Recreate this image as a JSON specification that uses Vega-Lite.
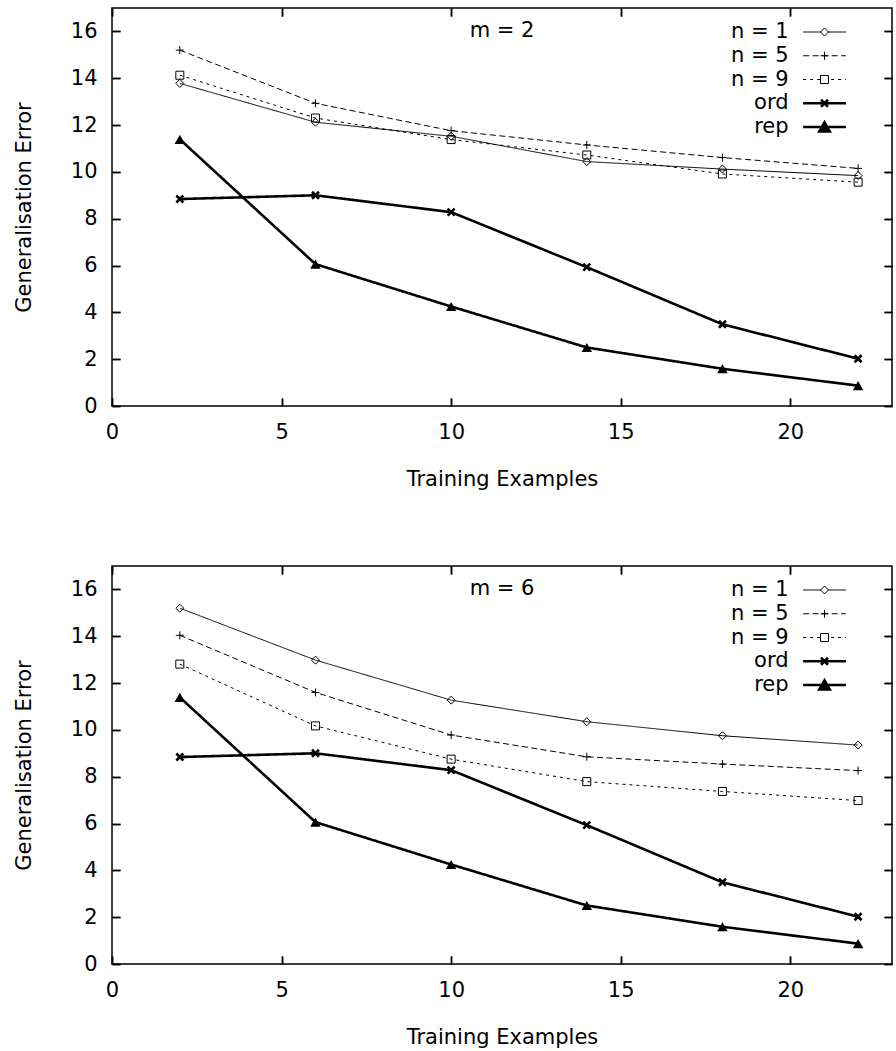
{
  "$schema": "https://vega.github.io/schema/vega-lite/v6.json",
  "padding": {"left": 12, "top": 6, "right": 0, "bottom": 0},
  "background": "white",
  "config": {
    "font": "DejaVu Sans",
    "view": {"stroke": "black", "strokeWidth": 1.5},
    "axis": {"domain": false, "grid": false, "tickColor": "black", "tickWidth": 1.5, "labelPadding": 15, "labelFontSize": 21, "labelFont": "DejaVu Sans", "labelColor": "black", "titleFontSize": 21, "titleFont": "DejaVu Sans", "titleFontWeight": "normal", "titleColor": "black", "labelFlush": false, "labelOverlap": false},
    "axisX": {"titlePadding": 26},
    "axisY": {"titlePadding": 36},
    "concat": {"spacing": 74}
  },
  "datasets": {
    "m2": [
      {"x": 2, "y": 13.78, "series": "n = 1"}, {"x": 6, "y": 12.12, "series": "n = 1"}, {"x": 10, "y": 11.52, "series": "n = 1"}, {"x": 14, "y": 10.44, "series": "n = 1"}, {"x": 18, "y": 10.12, "series": "n = 1"}, {"x": 22, "y": 9.84, "series": "n = 1"},
      {"x": 2, "y": 15.2, "series": "n = 5"}, {"x": 6, "y": 12.93, "series": "n = 5"}, {"x": 10, "y": 11.76, "series": "n = 5"}, {"x": 14, "y": 11.15, "series": "n = 5"}, {"x": 18, "y": 10.61, "series": "n = 5"}, {"x": 22, "y": 10.15, "series": "n = 5"},
      {"x": 2, "y": 14.13, "series": "n = 9"}, {"x": 6, "y": 12.3, "series": "n = 9"}, {"x": 10, "y": 11.38, "series": "n = 9"}, {"x": 14, "y": 10.72, "series": "n = 9"}, {"x": 18, "y": 9.91, "series": "n = 9"}, {"x": 22, "y": 9.56, "series": "n = 9"},
      {"x": 2, "y": 8.84, "series": "ord"}, {"x": 6, "y": 9.0, "series": "ord"}, {"x": 10, "y": 8.28, "series": "ord"}, {"x": 14, "y": 5.93, "series": "ord"}, {"x": 18, "y": 3.49, "series": "ord"}, {"x": 22, "y": 2.02, "series": "ord"},
      {"x": 2, "y": 11.39, "series": "rep"}, {"x": 6, "y": 6.06, "series": "rep"}, {"x": 10, "y": 4.25, "series": "rep"}, {"x": 14, "y": 2.5, "series": "rep"}, {"x": 18, "y": 1.59, "series": "rep"}, {"x": 22, "y": 0.87, "series": "rep"}
    ],
    "m6": [
      {"x": 2, "y": 15.2, "series": "n = 1"}, {"x": 6, "y": 12.98, "series": "n = 1"}, {"x": 10, "y": 11.27, "series": "n = 1"}, {"x": 14, "y": 10.35, "series": "n = 1"}, {"x": 18, "y": 9.75, "series": "n = 1"}, {"x": 22, "y": 9.35, "series": "n = 1"},
      {"x": 2, "y": 14.04, "series": "n = 5"}, {"x": 6, "y": 11.6, "series": "n = 5"}, {"x": 10, "y": 9.78, "series": "n = 5"}, {"x": 14, "y": 8.85, "series": "n = 5"}, {"x": 18, "y": 8.54, "series": "n = 5"}, {"x": 22, "y": 8.26, "series": "n = 5"},
      {"x": 2, "y": 12.81, "series": "n = 9"}, {"x": 6, "y": 10.17, "series": "n = 9"}, {"x": 10, "y": 8.75, "series": "n = 9"}, {"x": 14, "y": 7.79, "series": "n = 9"}, {"x": 18, "y": 7.37, "series": "n = 9"}, {"x": 22, "y": 6.98, "series": "n = 9"},
      {"x": 2, "y": 8.84, "series": "ord"}, {"x": 6, "y": 9.0, "series": "ord"}, {"x": 10, "y": 8.28, "series": "ord"}, {"x": 14, "y": 5.93, "series": "ord"}, {"x": 18, "y": 3.49, "series": "ord"}, {"x": 22, "y": 2.02, "series": "ord"},
      {"x": 2, "y": 11.39, "series": "rep"}, {"x": 6, "y": 6.06, "series": "rep"}, {"x": 10, "y": 4.25, "series": "rep"}, {"x": 14, "y": 2.5, "series": "rep"}, {"x": 18, "y": 1.59, "series": "rep"}, {"x": 22, "y": 0.87, "series": "rep"}
    ]
  },
  "vconcat": [
    {
      "width": 780, "height": 398,
      "title": {"text": "m = 2", "fontSize": 21, "font": "DejaVu Sans", "fontWeight": "normal", "color": "black", "anchor": "middle", "frame": "group", "offset": -50.5, "baseline": "alphabetic"},
      "data": {"name": "m2"},
      "layer": [
        {
          "layer": [
            {
              "mark": {"type": "line", "color": "black", "clip": false},
              "encoding": {
                "x": {"field": "x", "type": "quantitative", "scale": {"domain": [0, 23], "nice": false, "zero": false}, "axis": {"orient": "bottom", "ticks": false, "grid": true, "gridColor": "black", "gridOpacity": 1, "gridWidth": 1.5, "gridDash": [8, 382, 8], "values": [0, 5, 10, 15, 20], "title": "Training Examples"}},
                "y": {"field": "y", "type": "quantitative", "scale": {"domain": [0, 17], "nice": false}, "axis": {"orient": "left", "ticks": false, "grid": true, "gridColor": "black", "gridOpacity": 1, "gridWidth": 1.5, "gridDash": [8, 764, 8], "values": [0, 2, 4, 6, 8, 10, 12, 14, 16], "title": "Generalisation Error"}},
                "strokeDash": {"field": "series", "type": "nominal", "scale": {"domain": ["n = 1", "n = 5", "n = 9", "ord", "rep"], "range": [[1, 0], [6, 3.5], [3, 4], [1, 0], [1, 0]]}, "legend": null},
                "strokeWidth": {"field": "series", "type": "nominal", "scale": {"type": "ordinal", "domain": ["n = 1", "n = 5", "n = 9", "ord", "rep"], "range": [1, 1, 1, 2.6, 2.6]}, "legend": null}
              }
            },
            {
              "transform": [{"filter": "datum.series != 'rep'"}],
              "mark": {"type": "point", "color": "black", "filled": false, "opacity": 1},
              "encoding": {
                "x": {"field": "x", "type": "quantitative", "axis": {"orient": "top", "offset": -398, "labels": false, "ticks": true, "tickSize": 8, "tickColor": "black", "tickWidth": 1.5, "domain": false, "grid": false, "values": [0, 5, 10, 15, 20], "title": null}},
                "y": {"field": "y", "type": "quantitative", "axis": {"orient": "right", "offset": -780, "labels": false, "ticks": true, "tickSize": 8, "tickColor": "black", "tickWidth": 1.5, "domain": false, "grid": false, "values": [0, 2, 4, 6, 8, 10, 12, 14, 16], "title": null}},
                "shape": {"field": "series", "type": "nominal", "scale": {"domain": ["n = 1", "n = 5", "n = 9", "ord", "rep"], "range": ["diamond", "M-1,0H1M0,-1V1", "square", "M-1,-1L1,1M-1,1L1,-1", "triangle-up"]}, "legend": null},
                "size": {"field": "series", "type": "nominal", "scale": {"type": "ordinal", "domain": ["n = 1", "n = 5", "n = 9", "ord", "rep"], "range": [64, 64, 64, 49, 110]}, "legend": null},
                "strokeWidth": {"field": "series", "type": "nominal", "scale": {"type": "ordinal", "domain": ["n = 1", "n = 5", "n = 9", "ord", "rep"], "range": [1, 1, 1, 2.6, 2.6]}, "legend": null}
              }
            },
            {
              "transform": [{"filter": "datum.series == 'rep'"}],
              "mark": {"type": "point", "color": "black", "filled": true, "opacity": 1},
              "encoding": {
                "x": {"field": "x", "type": "quantitative", "axis": {"orient": "bottom", "offset": -398, "labels": false, "ticks": true, "tickSize": 8, "tickColor": "black", "tickWidth": 1.5, "domain": false, "grid": false, "values": [0, 5, 10, 15, 20], "title": null}},
                "y": {"field": "y", "type": "quantitative", "axis": {"orient": "left", "offset": -780, "labels": false, "ticks": true, "tickSize": 8, "tickColor": "black", "tickWidth": 1.5, "domain": false, "grid": false, "values": [0, 2, 4, 6, 8, 10, 12, 14, 16], "title": null}},
                "shape": {"field": "series", "type": "nominal", "scale": {"domain": ["n = 1", "n = 5", "n = 9", "ord", "rep"], "range": ["diamond", "M-1,0H1M0,-1V1", "square", "M-1,-1L1,1M-1,1L1,-1", "triangle-up"]}, "legend": null},
                "size": {"field": "series", "type": "nominal", "scale": {"type": "ordinal", "domain": ["n = 1", "n = 5", "n = 9", "ord", "rep"], "range": [64, 64, 64, 49, 110]}, "legend": null}
              }
            }
          ],
          "resolve": {"axis": {"x": "independent", "y": "independent"}}
        },
        {
          "transform": [{"filter": "datum.x == 2"}],
          "layer": [
            {
              "mark": {"type": "text", "align": "right", "baseline": "middle", "fontSize": 21, "font": "DejaVu Sans", "color": "black"},
              "encoding": {
                "x": {"datum": 19.95, "type": "quantitative", "scale": {"domain": [0, 23], "nice": false, "zero": false}, "axis": null},
                "y": {"field": "series", "type": "nominal", "scale": {"type": "point", "domain": ["n = 1", "n = 5", "n = 9", "ord", "rep"], "range": [24, 119], "padding": 0}, "axis": null},
                "text": {"field": "series"}
              }
            },
            {
              "mark": {"type": "rule", "color": "black"},
              "encoding": {
                "x": {"datum": 20.38, "type": "quantitative", "axis": null},
                "x2": {"datum": 21.64},
                "y": {"field": "series", "type": "nominal", "axis": null},
                "strokeDash": {"field": "series", "type": "nominal", "scale": {"domain": ["n = 1", "n = 5", "n = 9", "ord", "rep"], "range": [[1, 0], [6, 3.5], [3, 4], [1, 0], [1, 0]]}, "legend": null},
                "strokeWidth": {"field": "series", "type": "nominal", "scale": {"type": "ordinal", "domain": ["n = 1", "n = 5", "n = 9", "ord", "rep"], "range": [1, 1, 1, 2.6, 2.6]}, "legend": null}
              }
            },
            {
              "mark": {"type": "point", "color": "black", "filled": false, "opacity": 1},
              "encoding": {
                "x": {"datum": 21.01, "type": "quantitative", "axis": null},
                "y": {"field": "series", "type": "nominal", "axis": null},
                "shape": {"field": "series", "type": "nominal", "scale": {"domain": ["n = 1", "n = 5", "n = 9", "ord", "rep"], "range": ["diamond", "M-1,0H1M0,-1V1", "square", "M-1,-1L1,1M-1,1L1,-1", "triangle-up"]}, "legend": null},
                "size": {"field": "series", "type": "nominal", "scale": {"type": "ordinal", "domain": ["n = 1", "n = 5", "n = 9", "ord", "rep"], "range": [64, 64, 64, 49, 110]}, "legend": null},
                "strokeWidth": {"field": "series", "type": "nominal", "scale": {"type": "ordinal", "domain": ["n = 1", "n = 5", "n = 9", "ord", "rep"], "range": [1, 1, 1, 2.6, 2.6]}, "legend": null},
                "fill": {"field": "series", "type": "nominal", "scale": {"domain": ["n = 1", "n = 5", "n = 9", "ord", "rep"], "range": ["white", "white", "white", "transparent", "black"]}, "legend": null}
              }
            }
          ]
        }
      ],
      "resolve": {"scale": {"y": "independent"}, "axis": {"x": "independent", "y": "independent"}}
    },
    {
      "width": 780, "height": 398,
      "title": {"text": "m = 6", "fontSize": 21, "font": "DejaVu Sans", "fontWeight": "normal", "color": "black", "anchor": "middle", "frame": "group", "offset": -50.5, "baseline": "alphabetic"},
      "data": {"name": "m6"},
      "layer": [
        {
          "layer": [
            {
              "mark": {"type": "line", "color": "black", "clip": false},
              "encoding": {
                "x": {"field": "x", "type": "quantitative", "scale": {"domain": [0, 23], "nice": false, "zero": false}, "axis": {"orient": "bottom", "ticks": false, "grid": true, "gridColor": "black", "gridOpacity": 1, "gridWidth": 1.5, "gridDash": [8, 382, 8], "values": [0, 5, 10, 15, 20], "title": "Training Examples"}},
                "y": {"field": "y", "type": "quantitative", "scale": {"domain": [0, 17], "nice": false}, "axis": {"orient": "left", "ticks": false, "grid": true, "gridColor": "black", "gridOpacity": 1, "gridWidth": 1.5, "gridDash": [8, 764, 8], "values": [0, 2, 4, 6, 8, 10, 12, 14, 16], "title": "Generalisation Error"}},
                "strokeDash": {"field": "series", "type": "nominal", "scale": {"domain": ["n = 1", "n = 5", "n = 9", "ord", "rep"], "range": [[1, 0], [6, 3.5], [3, 4], [1, 0], [1, 0]]}, "legend": null},
                "strokeWidth": {"field": "series", "type": "nominal", "scale": {"type": "ordinal", "domain": ["n = 1", "n = 5", "n = 9", "ord", "rep"], "range": [1, 1, 1, 2.6, 2.6]}, "legend": null}
              }
            },
            {
              "transform": [{"filter": "datum.series != 'rep'"}],
              "mark": {"type": "point", "color": "black", "filled": false, "opacity": 1},
              "encoding": {
                "x": {"field": "x", "type": "quantitative", "axis": {"orient": "top", "offset": -398, "labels": false, "ticks": true, "tickSize": 8, "tickColor": "black", "tickWidth": 1.5, "domain": false, "grid": false, "values": [0, 5, 10, 15, 20], "title": null}},
                "y": {"field": "y", "type": "quantitative", "axis": {"orient": "right", "offset": -780, "labels": false, "ticks": true, "tickSize": 8, "tickColor": "black", "tickWidth": 1.5, "domain": false, "grid": false, "values": [0, 2, 4, 6, 8, 10, 12, 14, 16], "title": null}},
                "shape": {"field": "series", "type": "nominal", "scale": {"domain": ["n = 1", "n = 5", "n = 9", "ord", "rep"], "range": ["diamond", "M-1,0H1M0,-1V1", "square", "M-1,-1L1,1M-1,1L1,-1", "triangle-up"]}, "legend": null},
                "size": {"field": "series", "type": "nominal", "scale": {"type": "ordinal", "domain": ["n = 1", "n = 5", "n = 9", "ord", "rep"], "range": [64, 64, 64, 49, 110]}, "legend": null},
                "strokeWidth": {"field": "series", "type": "nominal", "scale": {"type": "ordinal", "domain": ["n = 1", "n = 5", "n = 9", "ord", "rep"], "range": [1, 1, 1, 2.6, 2.6]}, "legend": null}
              }
            },
            {
              "transform": [{"filter": "datum.series == 'rep'"}],
              "mark": {"type": "point", "color": "black", "filled": true, "opacity": 1},
              "encoding": {
                "x": {"field": "x", "type": "quantitative", "axis": {"orient": "bottom", "offset": -398, "labels": false, "ticks": true, "tickSize": 8, "tickColor": "black", "tickWidth": 1.5, "domain": false, "grid": false, "values": [0, 5, 10, 15, 20], "title": null}},
                "y": {"field": "y", "type": "quantitative", "axis": {"orient": "left", "offset": -780, "labels": false, "ticks": true, "tickSize": 8, "tickColor": "black", "tickWidth": 1.5, "domain": false, "grid": false, "values": [0, 2, 4, 6, 8, 10, 12, 14, 16], "title": null}},
                "shape": {"field": "series", "type": "nominal", "scale": {"domain": ["n = 1", "n = 5", "n = 9", "ord", "rep"], "range": ["diamond", "M-1,0H1M0,-1V1", "square", "M-1,-1L1,1M-1,1L1,-1", "triangle-up"]}, "legend": null},
                "size": {"field": "series", "type": "nominal", "scale": {"type": "ordinal", "domain": ["n = 1", "n = 5", "n = 9", "ord", "rep"], "range": [64, 64, 64, 49, 110]}, "legend": null}
              }
            }
          ],
          "resolve": {"axis": {"x": "independent", "y": "independent"}}
        },
        {
          "transform": [{"filter": "datum.x == 2"}],
          "layer": [
            {
              "mark": {"type": "text", "align": "right", "baseline": "middle", "fontSize": 21, "font": "DejaVu Sans", "color": "black"},
              "encoding": {
                "x": {"datum": 19.95, "type": "quantitative", "scale": {"domain": [0, 23], "nice": false, "zero": false}, "axis": null},
                "y": {"field": "series", "type": "nominal", "scale": {"type": "point", "domain": ["n = 1", "n = 5", "n = 9", "ord", "rep"], "range": [24, 119], "padding": 0}, "axis": null},
                "text": {"field": "series"}
              }
            },
            {
              "mark": {"type": "rule", "color": "black"},
              "encoding": {
                "x": {"datum": 20.38, "type": "quantitative", "axis": null},
                "x2": {"datum": 21.64},
                "y": {"field": "series", "type": "nominal", "axis": null},
                "strokeDash": {"field": "series", "type": "nominal", "scale": {"domain": ["n = 1", "n = 5", "n = 9", "ord", "rep"], "range": [[1, 0], [6, 3.5], [3, 4], [1, 0], [1, 0]]}, "legend": null},
                "strokeWidth": {"field": "series", "type": "nominal", "scale": {"type": "ordinal", "domain": ["n = 1", "n = 5", "n = 9", "ord", "rep"], "range": [1, 1, 1, 2.6, 2.6]}, "legend": null}
              }
            },
            {
              "mark": {"type": "point", "color": "black", "filled": false, "opacity": 1},
              "encoding": {
                "x": {"datum": 21.01, "type": "quantitative", "axis": null},
                "y": {"field": "series", "type": "nominal", "axis": null},
                "shape": {"field": "series", "type": "nominal", "scale": {"domain": ["n = 1", "n = 5", "n = 9", "ord", "rep"], "range": ["diamond", "M-1,0H1M0,-1V1", "square", "M-1,-1L1,1M-1,1L1,-1", "triangle-up"]}, "legend": null},
                "size": {"field": "series", "type": "nominal", "scale": {"type": "ordinal", "domain": ["n = 1", "n = 5", "n = 9", "ord", "rep"], "range": [64, 64, 64, 49, 110]}, "legend": null},
                "strokeWidth": {"field": "series", "type": "nominal", "scale": {"type": "ordinal", "domain": ["n = 1", "n = 5", "n = 9", "ord", "rep"], "range": [1, 1, 1, 2.6, 2.6]}, "legend": null},
                "fill": {"field": "series", "type": "nominal", "scale": {"domain": ["n = 1", "n = 5", "n = 9", "ord", "rep"], "range": ["white", "white", "white", "transparent", "black"]}, "legend": null}
              }
            }
          ]
        }
      ],
      "resolve": {"scale": {"y": "independent"}, "axis": {"x": "independent", "y": "independent"}}
    }
  ],
  "resolve": {
    "scale": {"x": "independent", "y": "independent", "strokeDash": "independent", "strokeWidth": "independent", "shape": "independent", "fill": "independent", "size": "independent"}
  }
}
